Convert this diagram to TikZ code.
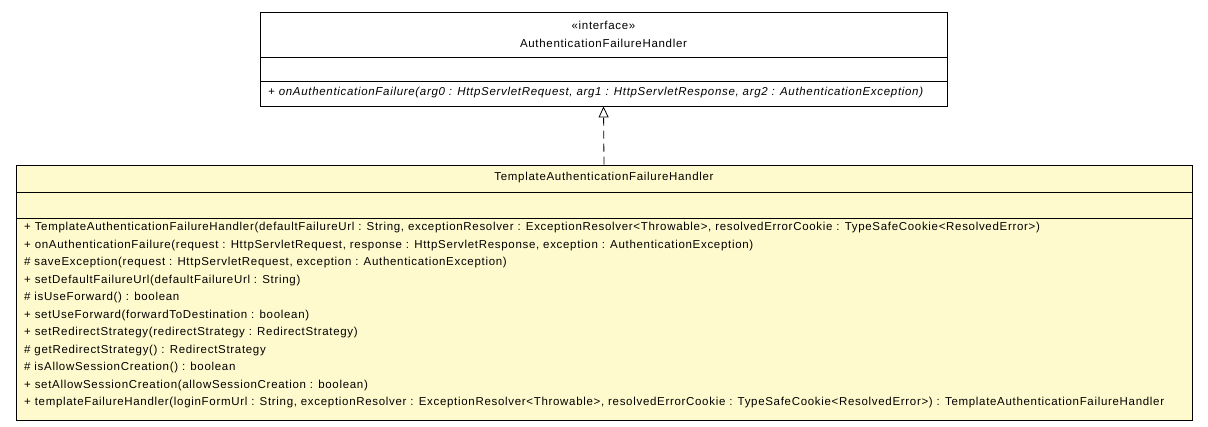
\documentclass[tikz,border=0pt]{standalone}
\usepackage{fontspec}
\setmainfont{Liberation Sans}
\newfontfamily\umlfont{Liberation Sans}[LetterSpace=6]
\usepackage{tikz}
\usetikzlibrary{arrows.meta}

\definecolor{classfill}{RGB}{255,250,205}
\tikzset{
    classbox/.style={draw=black, line width=0.9pt, rectangle, inner sep=0pt},
    member/.style={anchor=west, inner sep=0pt, font=\umlfont\fontsize{11.5}{13}\selectfont},
    title/.style={inner sep=0pt, font=\umlfont\fontsize{11.5}{13}\selectfont},
    realize/.style={dashed, dash pattern=on 8pt off 5pt, line width=0.8pt, -{Triangle[open, length=11pt, width=10pt]}},
}

\begin{document}
\begin{tikzpicture}[x=1pt, y=-1pt]
    \useasboundingbox (0, 0) rectangle (1208, 427);

    % interface box
    \node[classbox, fill=white, minimum width=687, minimum height=94] at (603.5, 59) (iface) {};
    \draw[line width=0.9pt] (260, 57) -- (947, 57);
    \draw[line width=0.9pt] (260, 81) -- (947, 81);
    \node[title] at (603.5, 25) (stereo) {«interface»};
    \node[title] at (603.5, 43) (ifacename) {AuthenticationFailureHandler};
    \node[member, font=\umlfont\fontsize{11.5}{13}\selectfont\itshape] at (268, 93) (m0) {+ onAuthenticationFailure(arg0 : HttpServletRequest, arg1 : HttpServletResponse, arg2 : AuthenticationException)};

    % implementing class
    \node[classbox, fill=classfill, minimum width=1176, minimum height=255] at (604, 292.5) (impl) {};
    \draw[line width=0.9pt] (16, 192) -- (1192, 192);
    \draw[line width=0.9pt] (16, 218) -- (1192, 218);
    \node[title] at (604, 178) (implname) {TemplateAuthenticationFailureHandler};
    \node[member] at (24, 228) (m1) {+ TemplateAuthenticationFailureHandler(defaultFailureUrl : String, exceptionResolver : ExceptionResolver<Throwable>, resolvedErrorCookie : TypeSafeCookie<ResolvedError>)};
    \node[member] at (24, 245.5) (m2) {+ onAuthenticationFailure(request : HttpServletRequest, response : HttpServletResponse, exception : AuthenticationException)};
    \node[member] at (24, 263) (m3) {\# saveException(request : HttpServletRequest, exception : AuthenticationException)};
    \node[member] at (24, 280.5) (m4) {+ setDefaultFailureUrl(defaultFailureUrl : String)};
    \node[member] at (24, 298) (m5) {\# isUseForward() : boolean};
    \node[member] at (24, 315.5) (m6) {+ setUseForward(forwardToDestination : boolean)};
    \node[member] at (24, 333) (m7) {+ setRedirectStrategy(redirectStrategy : RedirectStrategy)};
    \node[member] at (24, 350.5) (m8) {\# getRedirectStrategy() : RedirectStrategy};
    \node[member] at (24, 368) (m9) {\# isAllowSessionCreation() : boolean};
    \node[member] at (24, 385.5) (m10) {+ setAllowSessionCreation(allowSessionCreation : boolean)};
    \node[member] at (24, 403) (m11) {+ templateFailureHandler(loginFormUrl : String, exceptionResolver : ExceptionResolver<Throwable>, resolvedErrorCookie : TypeSafeCookie<ResolvedError>) : TemplateAuthenticationFailureHandler};

    % realization
    \draw[realize] (impl.north) -- (iface.south);
\end{tikzpicture}
\end{document}
